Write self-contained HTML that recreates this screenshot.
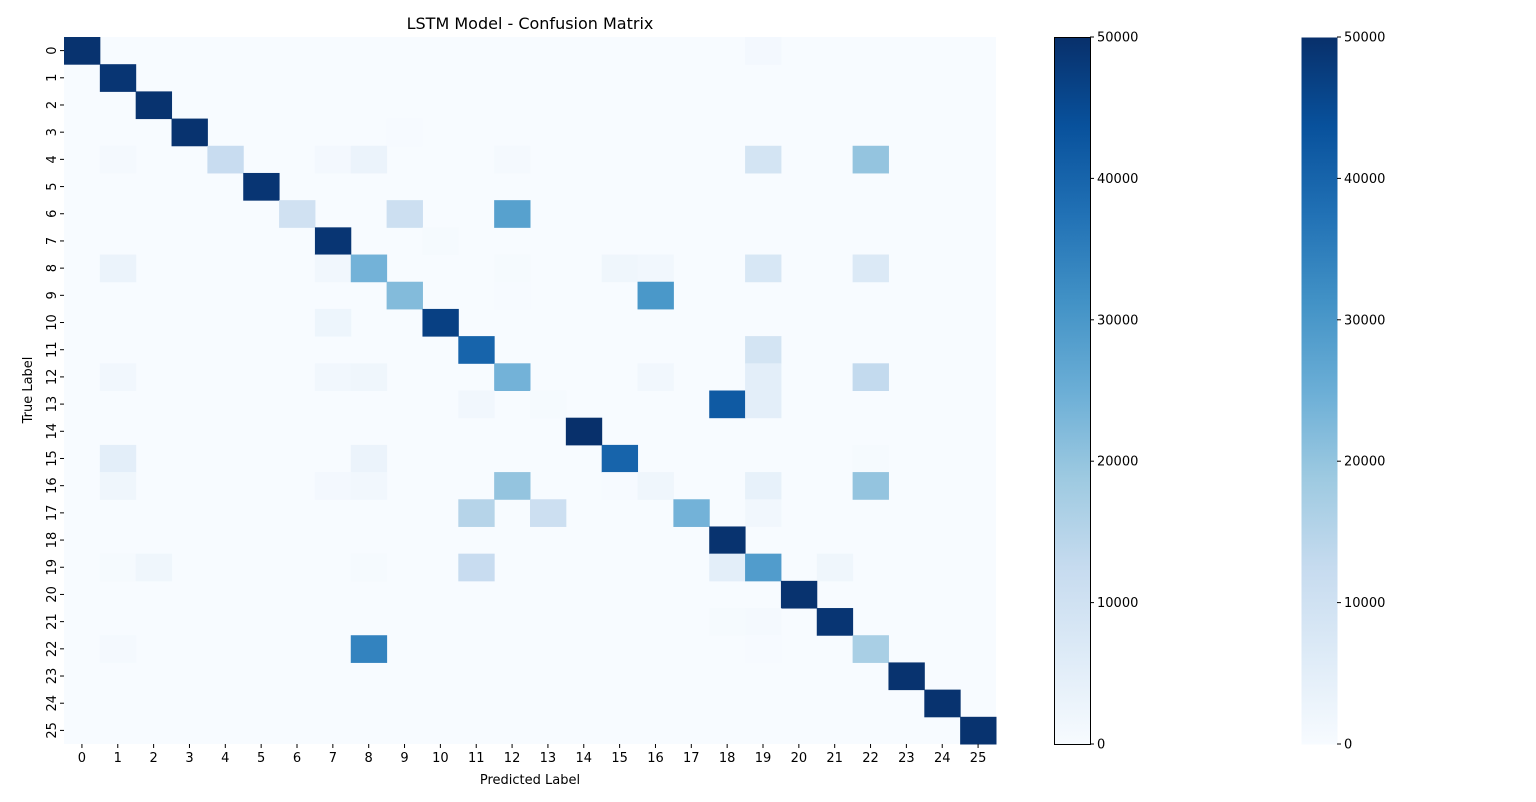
<!DOCTYPE html>
<html><head><meta charset="utf-8"><style>
body{margin:0;background:#fff;}
svg{display:block;font-family:"DejaVu Sans","Liberation Sans",sans-serif;}
</style></head><body>
<svg id="chart" width="1536" height="802">
<defs>
<linearGradient id="blues" x1="0" y1="1" x2="0" y2="0">
<stop offset="0" stop-color="#f7fbff"/><stop offset="0.125" stop-color="#deebf7"/><stop offset="0.25" stop-color="#c6dbef"/><stop offset="0.375" stop-color="#9ecae1"/><stop offset="0.5" stop-color="#6baed6"/><stop offset="0.625" stop-color="#4292c6"/><stop offset="0.75" stop-color="#2171b5"/><stop offset="0.875" stop-color="#08519c"/><stop offset="1" stop-color="#08306b"/>
</linearGradient>
</defs>
<text x="530" y="29" text-anchor="middle" font-size="16">LSTM Model - Confusion Matrix</text>
<g id="cells"></g>
<g id="axes"></g>
<text x="530" y="784" text-anchor="middle" font-size="13">Predicted Label</text>
<text transform="translate(32,390) rotate(-90)" text-anchor="middle" font-size="13">True Label</text>
<g id="cbars"></g>
</svg>
<script>
const labels = Array.from({length:26},(_,i)=>String(i));
const diag = [49500,49000,49500,49500,12000,49000,10000,49000,24000,22000,47000,40000,24000,500,50000,40000,2000,24000,49500,29000,49500,49000,17000,49500,49500,49500];
// off-diagonal entries: [row, col, value]
const offDiag = [
[0,19,1000],[3,9,300],
[4,1,800],[4,7,1000],[4,8,3000],[4,12,800],[4,19,9000],[4,22,20000],
[6,9,11000],[6,12,28000],
[7,10,500],
[8,1,3000],[8,7,1500],[8,12,500],[8,15,2000],[8,16,1500],[8,19,8000],[8,22,7000],
[9,12,300],[9,16,30000],
[10,7,2500],
[11,19,9000],
[12,1,1500],[12,7,1500],[12,8,2000],[12,16,1500],[12,19,5000],[12,22,13000],
[13,11,1500],[13,18,42000],[13,19,5000],
[15,1,5000],[15,8,3000],[15,22,500],
[16,1,2000],[16,7,1000],[16,8,1500],[16,12,20000],[16,15,300],[16,19,4000],[16,22,20000],
[17,11,15000],[17,13,11000],[17,19,1500],
[19,1,500],[19,2,2000],[19,8,500],[19,11,12000],[19,18,5000],[19,21,2000],
[21,18,500],[21,19,700],
[22,1,800],[22,8,34000],[22,19,300]
];
const cbTicks = [0,10000,20000,30000,40000,50000];
const vmax = 50000;

const NS="http://www.w3.org/2000/svg";
const X0=64,X1=996,Y0=37,Y1=744,n=labels.length;
const cw=(X1-X0)/n, ch=(Y1-Y0)/n;
const xs=i=>X0+i*cw, ys=i=>Y0+i*ch;
const stops=["#f7fbff","#deebf7","#c6dbef","#9ecae1","#6baed6","#4292c6","#2171b5","#08519c","#08306b"].map(h=>[1,3,5].map(k=>parseInt(h.substr(k,2),16)));
function color(v){let t=Math.max(0,Math.min(1,v/vmax))*8;let i=Math.min(7,Math.floor(t)),f=t-i;
const c=stops[i].map((a,k)=>Math.round(a+(stops[i+1][k]-a)*f));return `rgb(${c})`;}
function mk(tag,attrs,parent){const e=document.createElementNS(NS,tag);for(const k in attrs)e.setAttribute(k,attrs[k]);parent.appendChild(e);return e;}
const M=labels.map(()=>labels.map(()=>0));
diag.forEach((v,i)=>M[i][i]=v);
offDiag.forEach(([r,c,v])=>M[r][c]=v);
const cells=document.getElementById('cells');
mk('rect',{x:X0,y:Y0,width:X1-X0,height:Y1-Y0,fill:color(0)},cells);
for(let r=0;r<n;r++)for(let c=0;c<n;c++){if(!M[r][c])continue;
const e=mk('rect',{x:xs(c),y:ys(r),width:cw+0.5,height:ch+0.5,fill:color(M[r][c])},cells);

}
const ax=document.getElementById('axes');
labels.forEach((l,i)=>{
const cx=xs(i)+cw/2, cy=ys(i)+ch/2;
mk('line',{x1:cx,x2:cx,y1:Y1,y2:Y1+4,stroke:'#000'},ax);
const t=mk('text',{x:cx,y:Y1+18,'text-anchor':'middle','font-size':13},ax);t.textContent=l;


mk('line',{x1:X0-4,x2:X0,y1:cy,y2:cy,stroke:'#000'},ax);
const u=mk('text',{transform:`translate(${X0-8},${cy}) rotate(-90)`,'text-anchor':'middle','font-size':13},ax);u.textContent=l;


});
const cb=document.getElementById('cbars');
[[1054,true],[1301,false]].forEach(([x,border],bi)=>{
const r=mk('rect',{x:x+0.5,y:Y0+0.5,width:36,height:Y1-Y0,fill:'url(#blues)',stroke:border?'#000':'none','stroke-width':1},cb);


cbTicks.forEach(v=>{const y=Y1-(Y1-Y0)*v/vmax;
mk('line',{x1:x+36,x2:x+40,y1:y,y2:y,stroke:'#000'},cb);
const t=mk('text',{x:x+43,y:y+4.5,'font-size':13},cb);t.textContent=v;

});
});
</script>
</body></html>
